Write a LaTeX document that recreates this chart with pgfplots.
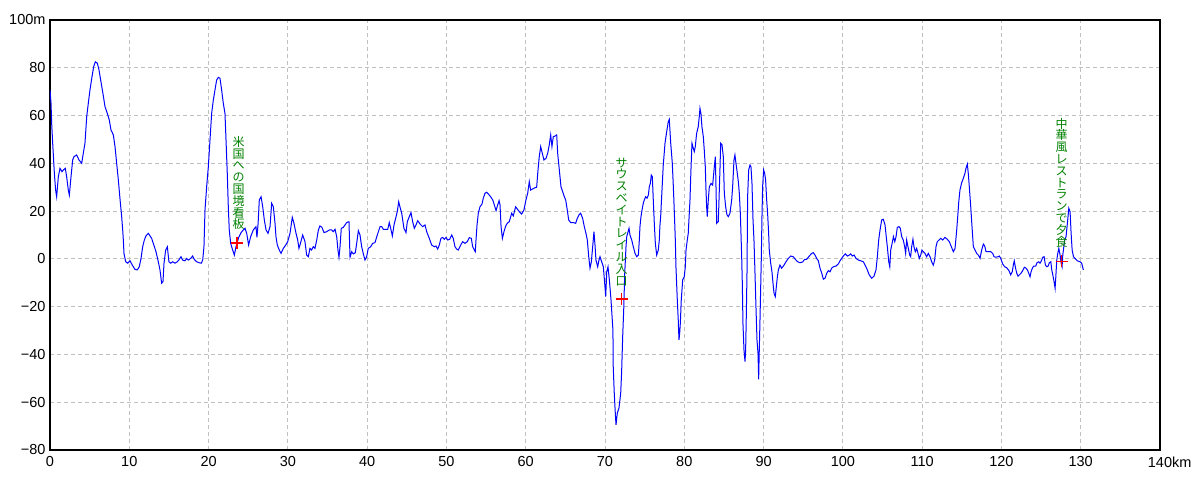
\documentclass[border=0pt]{standalone}
\usepackage{fontspec}
\setmainfont{Liberation Sans}
\newfontfamily\cjk{Noto Sans CJK JP}
\usepackage{pgfplots}
\pgfplotsset{compat=1.18}
\definecolor{gridgray}{RGB}{192,192,192}
\definecolor{lblgreen}{RGB}{0,128,0}
\definecolor{markred}{RGB}{255,0,0}
\begin{document}
\begin{tikzpicture}
\path[use as bounding box] (0,0) rectangle (1200pt,480pt);
\begin{axis}[
  at={(50pt,30pt)}, anchor=south west,
  scale only axis, width=1110pt, height=430pt,
  xmin=0, xmax=140, ymin=-80, ymax=100,
  xtick={0,10,...,140}, ytick={-80,-60,...,100},
  xticklabels={0,10,20,30,40,50,60,70,80,90,100,110,120,130,{140\rlap{km}}},
  yticklabels={−80,−60,−40,−20,0,20,40,60,80,100m},
  major tick length=0pt,
  tick label style={font=\fontsize{14.5}{16}\selectfont},
  xticklabel style={yshift=-3pt},
  yticklabel style={xshift=-1pt},
  grid=major,
  major grid style={gridgray, line width=0.9pt, dash pattern=on 4pt off 3pt},
  axis line style={black, line width=1.1pt},
  clip=true,
]
\addplot[blue, line width=1pt] coordinates {
(0,70.7) (0.13,65.1) (0.21,56.8) (0.34,48.4) (0.55,35.8) (0.71,28.8) (0.84,26.0) (1.05,34.4) (1.26,37.9) (1.51,36.5) (1.68,37.2) (1.93,37.9) (2.10,34.4) (2.31,28.8) (2.44,26.7) (2.61,33.0) (2.86,41.4) (3.03,42.8) (3.36,43.5) (3.66,41.4) (4.0,40.0) (4.2,44.2) (4.41,48.4) (4.63,59.5) (4.83,65.1) (5.04,70.7) (5.30,76.3) (5.51,80.5) (5.72,82.5) (5.97,81.9) (6.18,79.1) (6.39,74.9) (6.64,70.0) (6.94,63.7) (7.23,60.9) (7.48,58.1) (7.69,54.0) (7.99,51.9) (8.2,47.0) (8.41,40.0) (8.62,33.0) (8.84,24.7) (9.04,17.7) (9.17,12.1) (9.25,7.9) (9.33,2.3) (9.55,-1.2) (9.80,-1.8) (10.09,-0.8) (10.38,-2.6) (10.72,-4.4) (11.01,-4.6) (11.26,-3.3) (11.48,0.2) (11.69,5.1) (11.9,7.9) (12.1,9.6) (12.4,10.7) (12.82,8.6) (13.03,6.5) (13.37,3.0) (13.66,-1.2) (13.87,-4.6) (14.08,-10.2) (14.25,-9.5) (14.38,-1.8) (14.59,3.7) (14.8,5.1) (15.0,-1.2) (15.22,-1.8) (15.47,-1.2) (15.76,-1.8) (16.06,-1.2) (16.31,-0.2) (16.52,0.9) (16.73,-0.5) (17.02,-0.8) (17.24,0.2) (17.44,-0.5) (17.74,0.2) (17.99,1.2) (18.2,-0.2) (18.5,-1.2) (18.79,-1.6) (19.08,-1.8) (19.26,-0.5) (19.42,5.1) (19.55,20.5) (19.76,30.2) (19.97,38.6) (20.18,49.8) (20.39,60.9) (20.6,66.5) (20.81,70.7) (21.02,74.9) (21.23,76.0) (21.44,75.6) (21.65,70.7) (21.86,65.1) (22.07,60.9) (22.2,49.8) (22.36,35.8) (22.49,21.8) (22.61,12.1) (22.79,6.5) (23.04,3.7) (23.25,1.6) (23.46,5.1) (23.8,9.0) (24.1,11.0) (24.38,12.1) (24.6,12.8) (24.81,10.7) (25.05,5.8) (25.31,9.3) (25.64,12.1) (25.98,13.5) (26.1,9.0) (26.25,15.0) (26.4,24.7) (26.62,26.0) (26.83,21.8) (27.03,16.3) (27.25,12.1) (27.5,10.7) (27.75,13.5) (27.96,23.3) (28.17,21.8) (28.38,14.9) (28.5,9.3) (28.67,5.8) (28.92,3.7) (29.14,2.3) (29.43,4.4) (29.73,5.8) (29.98,7.2) (30.27,10.7) (30.56,17.4) (30.77,14.9) (31.03,10.7) (31.24,7.9) (31.4,4.4)
(31.53,5.8) (31.87,10.0) (32.16,7.2) (32.37,1.6) (32.58,0.9) (32.79,4.4) (33.0,3.7) (33.21,5.1) (33.42,4.4) (33.64,7.9) (33.85,12.1) (34.05,13.8) (34.3,13.2) (34.56,11.0) (34.9,11.4) (35.23,12.1) (35.53,12.1) (35.73,11.4) (35.95,12.4) (36.16,9.3) (36.32,3.7) (36.45,0.7) (36.58,5.1) (36.74,12.8) (36.99,13.2) (37.21,14.2) (37.42,15.2) (37.71,15.6) (37.84,0.7) (38.05,3.0) (38.26,2.1) (38.51,2.6) (38.68,6.5) (38.89,11.8) (39.1,10.0) (39.31,5.1) (39.52,2.1) (39.73,-0.5) (39.94,0.9) (40.14,4.4) (40.45,5.1) (40.7,6.5) (40.99,6.8) (41.28,10.0) (41.63,13.5) (41.84,13.5) (42.04,12.4) (42.38,12.4) (42.6,12.4) (42.79,15.2) (42.97,12.8) (43.18,9.6) (43.39,14.2) (43.6,17.0) (43.8,19.8) (43.98,23.9) (44.14,21.8) (44.36,19.1) (44.64,12.8) (44.9,11.0) (45.07,15.6) (45.32,17.7) (45.53,19.4) (45.74,15.6) (45.95,12.8) (46.16,14.2) (46.38,16.0) (46.67,14.6) (47.0,13.5) (47.3,14.2) (47.51,11.4) (47.84,8.6) (48.14,5.8) (48.47,5.1) (48.68,5.4) (48.9,4.1) (49.1,5.8) (49.31,8.6) (49.53,9.0) (49.73,8.2) (49.95,9.0) (50.16,7.9) (50.41,8.2) (50.67,10.0) (50.86,8.6) (51.08,5.1) (51.29,4.1) (51.49,3.7) (51.8,5.8) (52.05,7.2) (52.34,6.5) (52.63,7.2) (52.89,8.9) (53.14,8.6) (53.31,5.1) (53.52,3.7) (53.64,3.0) (53.73,7.9) (53.86,14.2) (54.02,19.1) (54.23,21.8) (54.49,23.0) (54.65,25.4) (54.87,27.5) (55.08,27.9) (55.33,27.0) (55.58,26.0) (55.84,24.7) (56.04,22.6) (56.26,20.2) (56.42,22.1) (56.64,24.4) (56.76,22.6) (56.89,13.5) (57.06,8.6) (57.26,11.4) (57.48,13.8) (57.67,14.9) (57.93,15.6) (58.23,19.1) (58.43,18.0) (58.73,21.8) (58.93,20.9) (59.19,19.8) (59.49,18.8) (59.78,20.5) (60.03,24.7) (60.25,27.5) (60.45,32.3) (60.62,28.8) (60.87,29.3) (61.17,29.8) (61.38,30.0) (61.55,37.2) (61.71,42.8) (61.89,47.0) (62.09,44.2) (62.3,41.4) (62.56,42.1) (62.77,44.2) (62.97,47.7) (63.15,51.9) (63.31,47.0) (63.48,51.2) (63.69,51.4) (63.91,51.9) (64.03,44.2) (64.24,37.2) (64.45,30.2) (64.66,28.1) (64.87,26.0) (65.04,24.7) (65.21,21.2) (65.42,16.3) (65.67,15.2) (66.0,15.2) (66.3,14.9) (66.51,17.0) (66.72,18.4) (66.93,19.1) (67.18,17.0) (67.39,13.5) (67.6,10.7) (67.77,7.9) (67.95,0.9) (68.11,-3.9) (68.28,-1.2) (68.61,11.4) (68.74,5.8) (68.86,-0.5) (69.08,-3.3) (69.24,-0.5)
(69.37,0.9) (69.58,-1.2) (69.79,-3.3) (69.96,-10.2) (70.09,-15.8) (70.22,-5.4) (70.38,-3.3) (70.55,-8.8) (70.76,-17.2) (70.92,-25.6) (71.0,-29.8) (71.04,-45.1) (71.17,-56.3) (71.3,-64.6) (71.39,-69.5) (71.55,-64.6) (71.76,-62.5) (71.98,-56.3) (72.1,-47.2) (72.23,-32.6) (72.36,-21.4) (72.49,-6.0) (72.65,5.1) (72.74,9.3) (73.03,12.8) (73.15,10.0) (73.37,7.9) (73.57,5.1) (73.79,2.3) (74.0,0.9) (74.21,1.6) (74.33,7.9) (74.41,13.5) (74.54,17.7) (74.71,21.2) (74.83,23.3) (74.96,24.7) (75.13,26.0) (75.3,25.4) (75.47,26.7) (75.59,30.2) (75.72,31.6) (75.84,35.1) (75.97,34.4) (76.09,24.7) (76.22,14.9) (76.35,6.5) (76.52,1.6) (76.72,3.7) (76.85,7.9) (76.92,13.5) (77.02,17.7) (77.19,28.8) (77.35,39.3) (77.57,48.4) (77.78,53.2) (77.98,57.4) (78.11,58.4) (78.29,48.4) (78.49,40.0) (78.62,30.2) (78.75,19.1) (78.87,7.9) (78.95,-3.3) (79.12,-17.2) (79.24,-25.6) (79.33,-33.9) (79.42,-31.1) (79.5,-27.0) (79.62,-17.2) (79.8,-8.8) (80.0,-7.5) (80.13,-3.3) (80.22,3.7) (80.38,7.9) (80.5,10.7) (80.72,24.7) (80.84,37.2) (80.97,48.4) (81.14,46.3) (81.26,44.9) (81.39,47.0) (81.56,52.6) (81.76,55.3) (81.89,59.5) (81.98,63.0) (82.1,60.9) (82.23,55.3) (82.4,51.2) (82.52,45.6) (82.65,38.6) (82.74,28.8) (82.82,21.8) (82.9,17.7) (83.03,24.7) (83.16,30.2) (83.37,31.6) (83.58,30.9) (83.79,38.6) (83.92,42.8) (84.0,30.2) (84.09,14.9) (84.29,15.6) (84.38,24.7) (84.51,38.6) (84.59,48.4) (84.76,47.7) (84.92,42.8) (85.05,27.5) (85.22,21.8) (85.39,18.4) (85.56,17.7) (85.76,19.1) (85.98,24.7) (86.1,30.2) (86.27,41.4) (86.39,43.5) (86.52,40.0) (86.69,35.8) (86.82,32.3) (86.94,27.5) (87.07,19.1) (87.15,10.7) (87.24,0.9) (87.32,-10.2) (87.4,-27.0) (87.53,-38.1) (87.66,-43.0) (87.74,-38.1) (87.82,-24.2) (87.91,-6.0) (87.99,26.0) (88.12,37.2) (88.29,39.3) (88.41,38.6) (88.54,31.6) (88.67,16.3) (88.79,7.9) (88.92,-6.0) (89.04,-20.0) (89.17,-33.9) (89.3,-39.5) (89.38,-50.4) (89.46,-38.1) (89.54,-27.0) (89.63,-13.0) (89.71,-0.5) (89.8,17.7) (89.88,30.2) (90.01,37.2) (90.14,35.8) (90.26,33.0) (90.39,24.7) (90.51,19.1) (90.64,10.7) (90.72,3.7) (90.9,-1.8) (91.06,-5.4) (91.19,-10.2) (91.32,-14.4) (91.48,-15.8) (91.6,-12.0) (91.74,-7.5) (91.87,-4.6) (92.07,-2.6) (92.28,-3.9) (92.58,-2.6) (92.83,-1.2) (93.12,0.2) (93.43,1.2) (93.75,0.9) (94.01,-0.2) (94.3,-1.2) (94.59,-1.6) (94.93,-1.3) (95.18,-0.2) (95.43,-0.2) (95.77,1.2) (96.07,2.3) (96.27,2.6) (96.49,1.6) (96.7,0.2) (96.91,-0.8) (97.12,-3.9) (97.34,-6.0) (97.54,-8.5) (97.75,-8.1) (97.97,-6.0) (98.17,-4.9) (98.38,-5.4) (98.59,-3.9) (98.8,-3.3) (99.14,-3.0) (99.43,-2.1) (99.64,-0.8) (99.85,0.2) (100.06,1.2) (100.31,2.1) (100.57,1.2) (100.82,1.6) (100.99,2.1) (101.2,1.2) (101.42,1.6) (101.67,0.2) (101.96,-0.5) (102.26,-0.8) (102.58,-1.2) (103.0,-3.9) (103.33,-6.7) (103.64,-8.1) (103.93,-7.2) (104.18,-4.6) (104.35,0.9) (104.52,7.9) (104.69,12.1) (104.9,16.3) (105.1,16.6) (105.32,14.2) (105.45,10.0) (105.61,5.1) (105.79,-1.2) (105.92,-3.3) (106.04,3.7) (106.21,6.5) (106.38,9.3) (106.55,7.2) (106.71,9.3) (106.87,13.2) (107.08,13.5) (107.25,12.8) (107.42,9.3) (107.62,7.9) (107.8,5.1) (107.92,2.3) (108.05,7.9) (108.17,5.8) (108.3,3.7) (108.43,1.6) (108.55,0.9) (108.68,5.1) (108.84,8.2) (108.97,5.1) (109.14,3.0) (109.31,4.4) (109.48,2.3) (109.64,0.2) (109.82,1.6) (109.98,3.7) (110.15,3.0) (110.36,2.3) (110.57,0.9) (110.78,2.3) (110.99,0.9) (111.2,-1.2) (111.41,-2.6) (111.58,-0.5) (111.75,5.1) (111.91,7.2) (112.13,7.9) (112.34,8.6) (112.59,7.9) (112.88,9.0) (113.18,8.2) (113.43,7.2) (113.68,5.1) (113.94,3.0) (114.15,4.4) (114.36,12.1) (114.49,17.7) (114.62,23.9) (114.77,28.8) (114.99,31.9) (115.19,33.7) (115.4,35.8) (115.53,37.9) (115.7,39.7) (115.82,35.8) (115.95,30.2) (116.13,21.8) (116.29,13.5) (116.46,5.1) (116.67,3.7) (116.88,2.3) (117.09,1.6) (117.3,0.2) (117.51,3.7) (117.72,6.2) (117.89,5.4) (118.06,3.0) (118.35,3.0) (118.65,3.0) (118.9,2.3) (119.07,0.9) (119.32,0.7) (119.57,0.9) (119.74,1.2) (119.91,0.2) (120.16,-2.1) (120.41,-3.3) (120.66,-3.7) (120.95,-4.9) (121.17,-6.7) (121.37,-5.4) (121.5,-2.6) (121.62,-0.8) (121.75,-3.3) (121.93,-6.0) (122.09,-7.2) (122.26,-6.7) (122.47,-6.0) (122.69,-4.9) (122.89,-3.5) (123.1,-3.9) (123.27,-4.6) (123.45,-6.0) (123.61,-7.5) (123.74,-5.4) (123.9,-3.9) (124.07,-3.0) (124.33,-3.0) (124.49,-1.6) (124.71,-1.2) (124.87,-1.8) (125.04,-0.8) (125.22,0.7) (125.38,0.9) (125.55,-2.6) (125.72,-3.3) (125.89,-3.0) (126.05,-1.6) (126.23,-1.2) (126.35,-4.6) (126.48,-6.7) (126.64,-9.5) (126.77,-12.3) (126.86,-7.5) (126.98,-0.5) (127.11,2.3) (127.24,4.4) (127.4,1.6) (127.53,-1.8) (127.65,-3.3) (127.74,1.6) (127.87,5.1) (127.99,7.9) (128.15,9.3) (128.32,14.9) (128.5,21.2) (128.66,19.8) (128.79,10.7) (128.92,3.7) (129.09,0.9) (129.28,0.2) (129.57,-0.8) (129.91,-1.2) (130.12,-1.8) (130.25,-3.5) (130.33,-4.6)
};
\addplot[only marks, color=markred, mark=+, mark size=6pt, mark options={draw=markred, line width=1.5pt}] coordinates {(23.6,6.6) (72.1,-16.8) (127.6,-1.0)};
\node[anchor=south, inner sep=0pt, yshift=13pt, text=lblgreen, align=center, font=\cjk\fontsize{12}{11.8}\selectfont] at (axis cs:23.8,6.6) {米\\国\\へ\\の\\国\\境\\看\\板};
\node[anchor=south, inner sep=0pt, yshift=13pt, text=lblgreen, align=center, font=\cjk\fontsize{12}{11.8}\selectfont] at (axis cs:72.1,-16.8) {サ\\ウ\\ス\\ベ\\イ\\ト\\レ\\イ\\ル\\入\\口};
\node[anchor=south, inner sep=0pt, yshift=14pt, text=lblgreen, align=center, font=\cjk\fontsize{12}{11.8}\selectfont] at (axis cs:127.6,-1.0) {中\\華\\風\\レ\\ス\\ト\\ラ\\ン\\で\\夕\\食};
\end{axis}
\end{tikzpicture}
\end{document}
